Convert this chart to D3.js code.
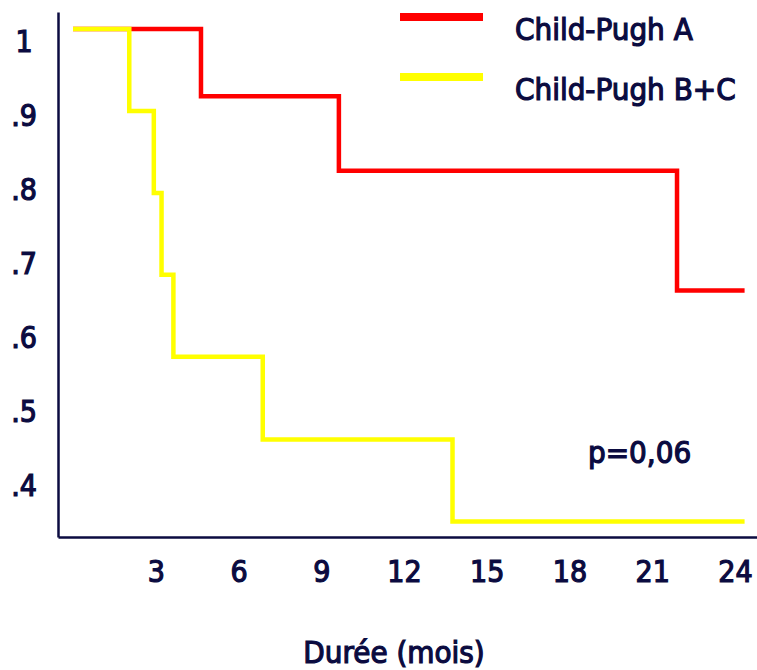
<!DOCTYPE html>
<html>
<head>
<meta charset="utf-8">
<script src="https://cdn.jsdelivr.net/npm/d3@7"></script>
<style>
  body { margin: 0; background: #fff; }
  text { font-family: "DejaVu Sans Condensed", "DejaVu Sans", sans-serif; font-weight: normal; fill: #0b0b40; stroke: #0b0b40; stroke-width: 1.2px; }
</style>
</head>
<body>
<script>
var width = 757;
var height = 670;

// Kaplan-Meier curves: event times (months) and survival after each step
var timesA = [0, 4.64, 9.64, 21.9, 24.35];
var survA = [1, 0.909, 0.808, 0.646, 0.646];

var timesBC = [0, 2.04, 2.93, 3.21, 3.64, 6.88, 13.76, 24.35];
var survBC = [1, 0.889, 0.778, 0.667, 0.556, 0.444, 0.333, 0.333];

var xTicks = [3, 6, 9, 12, 15, 18, 21, 24];
var yTicks = [1, 0.9, 0.8, 0.7, 0.6, 0.5, 0.4];
var yTickLabels = ['1', '.9', '.8', '.7', '.6', '.5', '.4'];

var seriesNames = ['Child-Pugh A', 'Child-Pugh B+C'];
var colors = ['#ff0000', '#ffff00'];

var navy = '#0b0b40';

var x = d3.scaleLinear()
    .domain([-0.544, 24.8])
    .range([58, 757]);

var y = d3.scaleLinear()
    .domain([0.312, 1.023])
    .range([537, 12]);

var svg = d3.select('body')
    .append('svg')
    .attr('width', width)
    .attr('height', height);

// y axis
var yAxis = svg.append('g')
    .attr('transform', 'translate(' + x.range()[0] + ',0)')
    .call(d3.axisLeft(y)
        .tickValues(yTicks)
        .tickSize(0)
        .tickSizeOuter(0)
        .tickFormat(function(d, i) { return yTickLabels[i]; }));
yAxis.select('.domain').attr('stroke', navy).attr('stroke-width', 2.5);
yAxis.selectAll('text')
    .attr('x', 24 - x.range()[0])
    .attr('dy', null)
    .attr('y', 23)
    .attr('text-anchor', 'middle')
    .attr('font-size', 30)
    .attr('font-family', null)
    .style('fill', navy);

// x axis
var xAxis = svg.append('g')
    .attr('transform', 'translate(0,' + y.range()[0] + ')')
    .call(d3.axisBottom(x)
        .tickValues(xTicks)
        .tickSize(0)
        .tickSizeOuter(0));
xAxis.select('.domain').attr('stroke', navy).attr('stroke-width', 2.5);
xAxis.selectAll('text')
    .attr('dy', null)
    .attr('y', 45)
    .attr('font-size', 30)
    .attr('font-family', null)
    .style('fill', navy);

// curves
var line = d3.line()
    .curve(d3.curveStepAfter)
    .x(function(d) { return x(d[0]); })
    .y(function(d) { return y(d[1]); });

var curves = [d3.zip(timesA, survA), d3.zip(timesBC, survBC)];

svg.selectAll('path.km')
    .data(curves)
    .enter()
    .append('path')
    .attr('class', 'km')
    .attr('fill', 'none')
    .attr('stroke', function(d, i) { return colors[i]; })
    .attr('stroke-width', 4.5)
    .attr('d', line);

// legend
var legend = svg.selectAll('g.legend')
    .data(seriesNames)
    .enter()
    .append('g')
    .attr('class', 'legend')
    .attr('transform', function(d, i) { return 'translate(400,' + (17 + i * 60) + ')'; });

legend.append('line')
    .attr('x1', 0)
    .attr('x2', 83)
    .attr('stroke', function(d, i) { return colors[i]; })
    .attr('stroke-width', 8);

legend.append('text')
    .attr('x', 115)
    .attr('y', 23)
    .attr('font-size', 31)
    .text(function(d) { return d; });

svg.append('text')
    .attr('x', 588)
    .attr('y', 463)
    .attr('font-size', 31)
    .text('p=0,06');

svg.append('text')
    .attr('x', 394)
    .attr('y', 663)
    .attr('text-anchor', 'middle')
    .attr('font-size', 31)
    .text('Durée (mois)');
</script>
</body>
</html>
